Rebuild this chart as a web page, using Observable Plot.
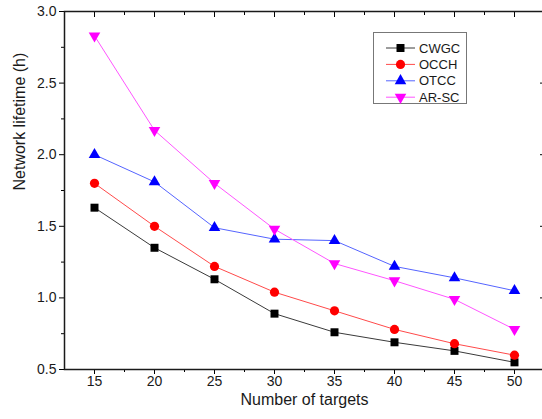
<!DOCTYPE html>
<html><head><meta charset="utf-8">
<script src="https://cdn.jsdelivr.net/npm/d3@7"></script>
<script src="https://cdn.jsdelivr.net/npm/@observablehq/plot@0.6"></script>
<style>
html,body{margin:0;padding:0;background:#fff;}
#wrap{position:relative;width:542px;height:419px;font-family:"Liberation Sans",Arial,sans-serif;overflow:hidden;}
#legend{position:absolute;left:373px;top:32px;}
</style></head><body><div id="wrap"></div>
<script>
// ---- data ----
const targets = [15, 20, 25, 30, 35, 40, 45, 50];
const cwgc = [1.63, 1.35, 1.13, 0.89, 0.76, 0.69, 0.63, 0.55];
const occh = [1.80, 1.50, 1.22, 1.04, 0.91, 0.78, 0.68, 0.60];
const otcc = [2.00, 1.81, 1.49, 1.41, 1.40, 1.22, 1.14, 1.05];
const arsc = [2.83, 2.17, 1.80, 1.48, 1.24, 1.12, 0.99, 0.78];
const seriesNames = ["CWGC", "OCCH", "OTCC", "AR-SC"];
const seriesValues = [cwgc, occh, otcc, arsc];
const markerColors = ["#000000", "#ff0000", "#0000ff", "#ff00ff"];
const lineColors = ["#3a3a3a", "#ff4a4a", "#5564ff", "#ff55ff"];
const xMajor = [15, 20, 25, 30, 35, 40, 45, 50];
const xMinor = [17.5, 22.5, 27.5, 32.5, 37.5, 42.5, 47.5];
const yMajor = [0.5, 1.0, 1.5, 2.0, 2.5, 3.0];
const yMinor = [0.75, 1.25, 1.75, 2.25, 2.75];
const xTitle = "Number of targets";
const yTitle = "Network lifetime (h)";

// custom downward triangle symbol
const triangleDown = {
  draw(ctx, size) {
    const y = -Math.sqrt(size / (Math.sqrt(3) * 3));
    ctx.moveTo(0, -y * 2);
    ctx.lineTo(-Math.sqrt(3) * y, y);
    ctx.lineTo(Math.sqrt(3) * y, y);
    ctx.closePath();
  }
};
const symbols = [d3.symbolSquare, d3.symbolCircle, d3.symbolTriangle, triangleDown];
const radii = [4.5, 4.6, 4.3, 4.3];

const rows = seriesNames.flatMap((name, s) =>
  targets.map((t, i) => ({series: name, s, x: t, y: seriesValues[s][i]})));

const marks = [];
seriesNames.forEach((name, s) => {
  const d = rows.filter(r => r.series === name);
  marks.push(Plot.line(d, {x: "x", y: "y", stroke: lineColors[s], strokeWidth: 1}));
});
seriesNames.forEach((name, s) => {
  const d = rows.filter(r => r.series === name);
  marks.push(Plot.dot(d, {x: "x", y: "y", symbol: symbols[s], fill: markerColors[s], stroke: "none", r: radii[s]}));
});

const axisFont = {fontSize: 14, fill: "#1a1a1a"};
const blank = () => "";
marks.push(
  Plot.axisX(xMajor, {anchor: "bottom", tickSize: 5, tickPadding: 2, label: null, ...axisFont}),
  Plot.axisX(xMinor, {anchor: "bottom", tickSize: 3, tickFormat: blank, label: null}),
  Plot.axisX(xMajor, {anchor: "top", tickSize: -5, tickFormat: blank, label: null}),
  Plot.axisX(xMinor, {anchor: "top", tickSize: -3, tickFormat: blank, label: null}),
  Plot.axisY(yMajor, {anchor: "left", tickSize: 5, tickPadding: 3, tickFormat: d3.format(".1f"), label: null, ...axisFont}),
  Plot.axisY(yMinor, {anchor: "left", tickSize: 3, tickFormat: blank, label: null}),
  Plot.axisY(yMajor, {anchor: "right", tickSize: -5, tickFormat: blank, label: null}),
  Plot.axisY(yMinor, {anchor: "right", tickSize: -3, tickFormat: blank, label: null}),
  Plot.frame({stroke: "#1a1a1a", strokeWidth: 1.5}),
  Plot.text([xTitle], {text: d => d, frameAnchor: "bottom", dy: 30, lineAnchor: "middle", fontSize: 16, fill: "#1a1a1a"}),
  Plot.text([yTitle], {text: d => d, frameAnchor: "left", dx: -44.5, rotate: -90, lineAnchor: "middle", fontSize: 16, fill: "#1a1a1a"})
);

const chart = Plot.plot({
  width: 542,
  height: 419,
  marginLeft: 64,
  marginRight: -2,
  marginTop: 11,
  marginBottom: 50,
  style: {fontFamily: '"Liberation Sans", Arial, sans-serif', background: "#fff", overflow: "visible"},
  x: {domain: [12.5, 52.5], axis: null},
  y: {domain: [0.5, 3.0], axis: null},
  marks
});
const wrap = document.getElementById("wrap");
wrap.appendChild(chart);

// ---- legend ----
const lw = 94, lh = 72;
const leg = d3.select(wrap).append("svg").attr("id", "legend")
  .attr("width", lw + 1).attr("height", lh + 1);
leg.append("rect").attr("x", 0.5).attr("y", 0.5).attr("width", lw - 1).attr("height", lh - 1)
  .attr("fill", "#fff").attr("stroke", "#777").attr("stroke-width", 1);
seriesNames.forEach((name, s) => {
  const cy = 16 + s * 16.4;
  const g = leg.append("g");
  g.append("line").attr("x1", 13).attr("x2", 42).attr("y1", cy).attr("y2", cy)
    .attr("stroke", lineColors[s]).attr("stroke-width", 1);
  g.append("path").attr("transform", `translate(27.5,${cy})`)
    .attr("d", d3.symbol(symbols[s], Math.PI * radii[s] * radii[s])())
    .attr("fill", markerColors[s]);
  g.append("text").attr("x", 46).attr("y", cy).attr("dy", "0.36em")
    .attr("font-size", 13).attr("fill", "#1a1a1a")
    .style("font-family", '"Liberation Sans", Arial, sans-serif').text(name);
});
</script>
</body></html>
